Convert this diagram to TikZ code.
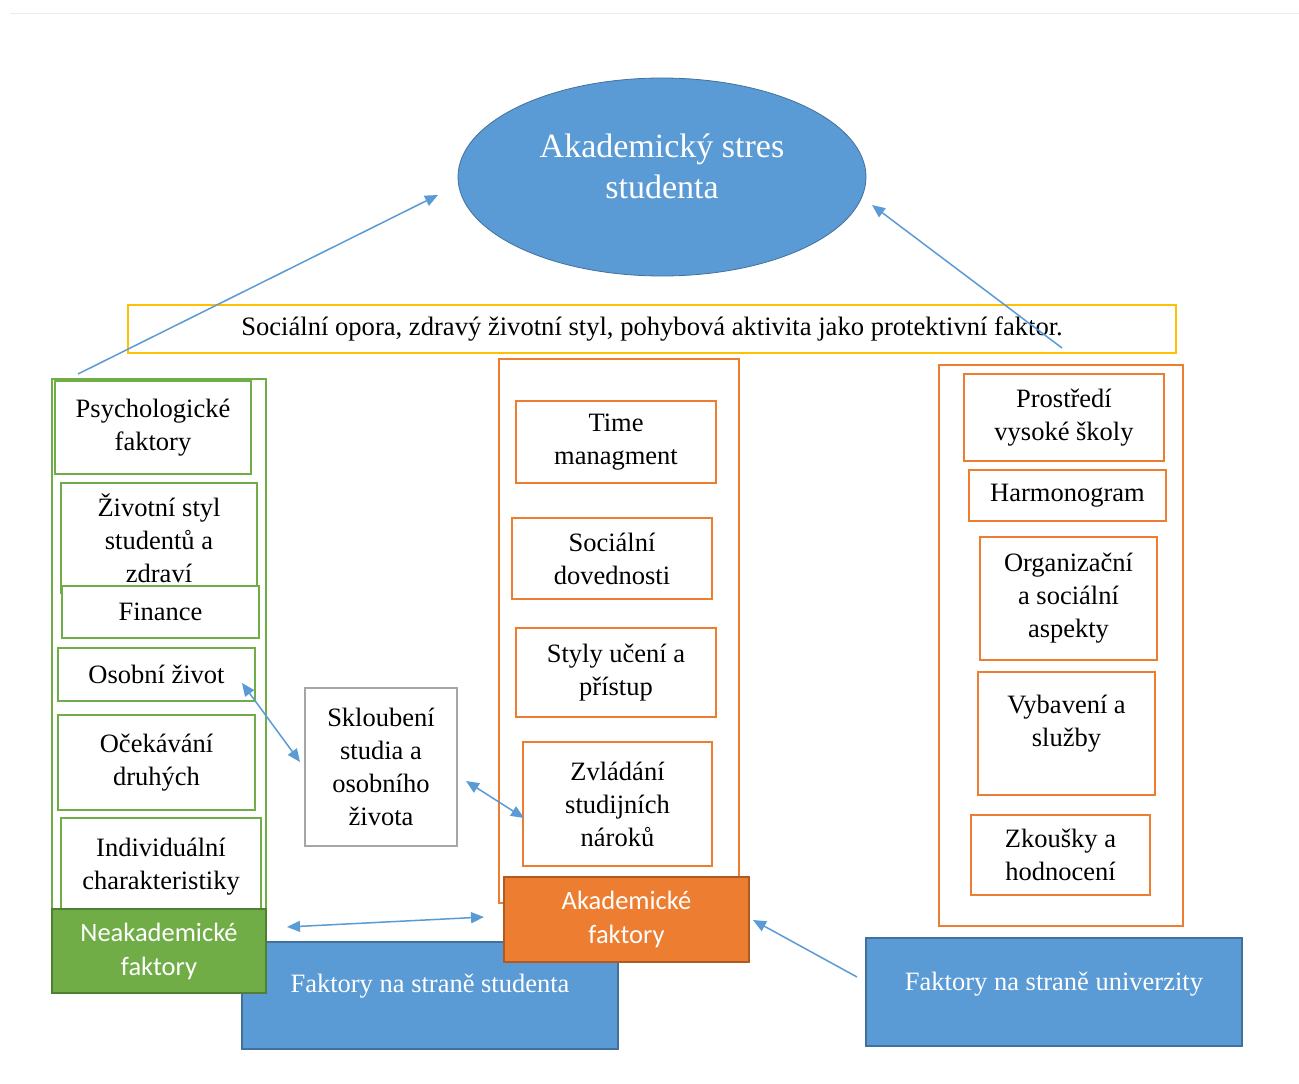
\documentclass[tikz,border=0pt]{standalone}
\usepackage{fontspec}
\setmainfont{Liberation Serif}
\newfontfamily\calfont{Carlito}
\usetikzlibrary{shapes.geometric,arrows.meta}
\definecolor{mblue}{HTML}{5B9BD5}
\definecolor{mbluedark}{HTML}{41719C}
\definecolor{mgreen}{HTML}{70AD47}
\definecolor{mgreendark}{HTML}{507E32}
\definecolor{morange}{HTML}{ED7D31}
\definecolor{morangedark}{HTML}{AE5A21}
\definecolor{myellow}{HTML}{FFC000}
\definecolor{mgray}{HTML}{A6A6A6}
\tikzset{
  bx/.style={rectangle, inner sep=0pt, outer sep=0pt, fill=white, line width=1.8pt, align=center,
    font=\fontsize{26.5}{33}\selectfont},
  gbox/.style={bx, draw=mgreen},
  obox/.style={bx, draw=morange},
  outerg/.style={rectangle, inner sep=0pt, draw=mgreen, line width=1.3pt, fill=white},
  outero/.style={rectangle, inner sep=0pt, draw=morange, line width=1.5pt, fill=white},
  filledbox/.style={rectangle, inner sep=0pt, outer sep=0pt, line width=1.5pt, align=center, text=white},
  arr/.style={draw=mblue, line width=1.5pt, -{Triangle[length=13pt,width=11pt]}},
  darr/.style={draw=mblue, line width=1.5pt, {Triangle[length=13pt,width=11pt]}-{Triangle[length=13pt,width=11pt]}},
}
\begin{document}
\begin{tikzpicture}[x=1pt,y=-1pt]
\useasboundingbox[fill=white] (0,0) rectangle (1299,1084);
\draw[black!7, line width=1pt] (10,13) -- (1299,13);

% ellipse
\node[ellipse, fill=mblue, draw=mbluedark, line width=0.8pt, minimum width=408, minimum height=198, inner sep=0pt,
  label={[text=white, align=center, font=\fontsize{34}{41}\selectfont, yshift=11pt]center:Akademický stres\\studenta}]
  (stres) at (662,177) {};

% protective factor
\node[rectangle, draw=myellow, line width=1.5pt, minimum width=1048, minimum height=48, inner sep=0pt,
  font=\fontsize{26.6}{33}\selectfont] (opora) at (652,329)
  {\raisebox{-2pt}{Sociální opora, zdravý životní styl, pohybová aktivita jako protektivní faktor.}};

% left column
\node[outerg, minimum width=214, minimum height=551] (leftcol) at (159,654.5) {};
\node[gbox, minimum width=196, minimum height=93] (psych) at (153,427.5) {Psychologické\\faktory};
\node[gbox, minimum width=196, minimum height=110] (zivot) at (159,538) {Životní styl\\studentů a\\zdraví};
\node[gbox, minimum width=197, minimum height=52] (finance) at (160.5,612) {Finance};
\node[gbox, minimum width=197, minimum height=53] (osobni) at (156.5,674.5) {Osobní život};
\node[gbox, minimum width=197, minimum height=95] (ocek) at (156.5,762.5) {Očekávání\\druhých};
\node[gbox, line width=1.3pt, minimum width=200, minimum height=97] (indiv) at (161,866.5) {Individuální\\charakteristiky};

% skloubeni
\node[bx, draw=mgray, line width=1.5pt, minimum width=152, minimum height=158] (sklo) at (381,767)
  {Skloubení\\studia a\\osobního\\života};

% middle column
\node[outero, minimum width=240, minimum height=544] (midcol) at (619,631) {};
\node[obox, minimum width=200, minimum height=82] (time) at (616,442) {Time\\managment};
\node[obox, minimum width=200, minimum height=81] (socd) at (612,558.5) {Sociální\\dovednosti};
\node[obox, minimum width=200, minimum height=89] (styly) at (616,672.5) {Styly učení a\\přístup};
\node[obox, minimum width=189, minimum height=124] (zvl) at (617.5,804) {Zvládání\\studijních\\nároků};

% right column
\node[outero, minimum width=244, minimum height=561] (rightcol) at (1061,645.5) {};
\node[obox, minimum width=200, minimum height=87] (prost) at (1064,417.5) {Prostředí\\vysoké školy};
\node[obox, minimum width=197, minimum height=51] (harm) at (1067.5,495.5) {Harmonogram};
\node[obox, minimum width=177, minimum height=123] (org) at (1068.5,598.5) {Organizační\\a sociální\\aspekty};
\node[obox, minimum width=177, minimum height=123,
  label={[align=center, font=\fontsize{26.5}{33}\selectfont, yshift=10pt]center:Vybavení a\\služby}] (vyb) at (1066.5,733.5) {};
\node[obox, minimum width=179, minimum height=80] (zk) at (1060.5,855) {Zkoušky a\\hodnocení};

% bottom labels
\node[filledbox, fill=mblue, draw=mbluedark, minimum width=376, minimum height=107,
  label={[text=white, font=\fontsize{26.5}{33}\selectfont, yshift=9pt]center:Faktory na straně studenta}] (fstud) at (430,995.5) {};
\node[filledbox, fill=mgreen, draw=mgreendark, minimum width=214, minimum height=84,
  font=\calfont\fontsize{26.5}{34}\selectfont] (neak) at (159,951) {Neakademické\\faktory};
\node[filledbox, fill=morange, draw=morangedark, minimum width=245, minimum height=85,
  font=\calfont\fontsize{26.5}{34}\selectfont] (akad) at (626.5,919.5) {Akademické\\faktory};
\node[filledbox, fill=mblue, draw=mbluedark, minimum width=376, minimum height=108,
  label={[text=white, font=\fontsize{26.5}{33}\selectfont, yshift=8pt]center:Faktory na straně univerzity}] (funi) at (1054,992) {};

% connector ends
\coordinate (a1s) at (78,374);
\coordinate (a1e) at (438,195);
\coordinate (a2s) at (1062,348);
\coordinate (a2e) at (872,205);
\coordinate (a3s) at (242,683);
\coordinate (a3e) at (300,762);
\coordinate (a4s) at (466,781);
\coordinate (a4e) at (524,818);
\coordinate (a5s) at (287,927);
\coordinate (a5e) at (484,917);
\coordinate (a6s) at (857,977);
\coordinate (a6e) at (753,920);

\draw[arr] (a1s) -- (a1e);
\draw[arr] (a2s) -- (a2e);
\draw[darr] (a3s) -- (a3e);
\draw[darr] (a4s) -- (a4e);
\draw[darr] (a5s) -- (a5e);
\draw[arr] (a6s) -- (a6e);
\end{tikzpicture}
\end{document}
